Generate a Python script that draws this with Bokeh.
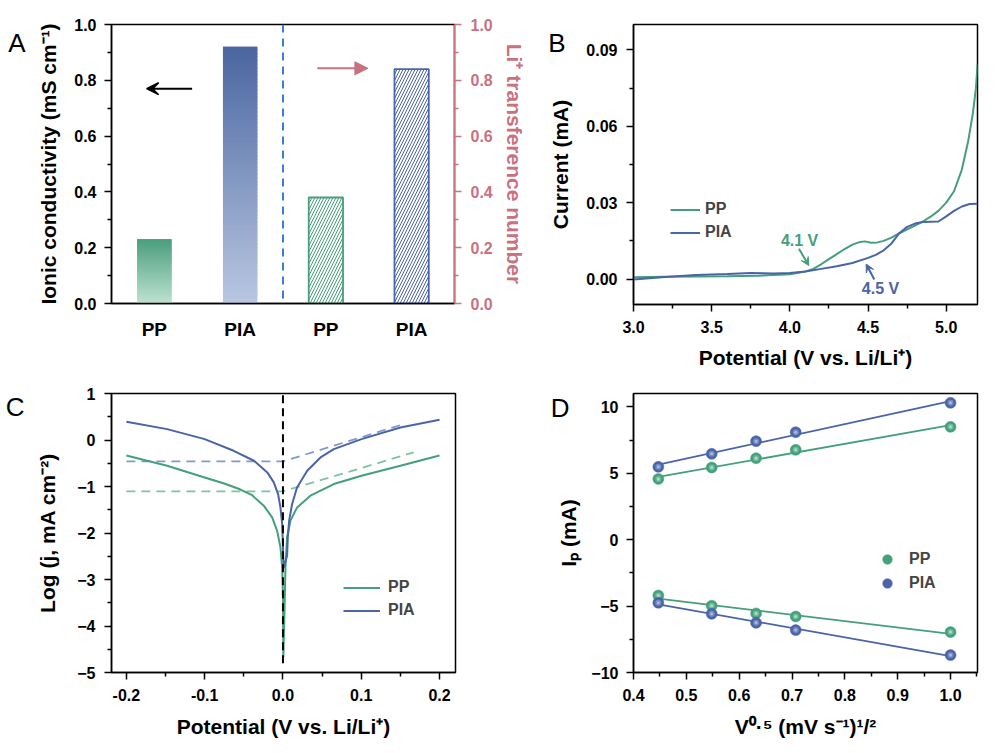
import numpy as np
from bokeh.plotting import figure
from bokeh.layouts import gridplot
from bokeh.models import (Range1d, LinearAxis, FixedTicker, Arrow, VeeHead, NormalHead,
                          Label, Span, Legend, LegendItem, NumeralTickFormatter)
from bokeh.embed import file_html
from bokeh.resources import INLINE

FONT = "Liberation Sans"
GREEN = "#44a07b"
BLUE = "#4a64a8"
PINK = "#c9717f"

# ---------------- Panel A data ----------------
a_categories = ["PP", "PIA", "PP", "PIA"]
a_conductivity = [0.23, 0.92]      # mS cm-1 (left axis): PP, PIA
a_transference = [0.38, 0.84]      # Li+ transference number (right axis): PP, PIA

# ---------------- Panel B data (LSV) ----------------
b_pot_pp = [3.0, 3.2, 3.4, 3.6, 3.8, 4.0, 4.1, 4.15, 4.2, 4.25, 4.3, 4.35, 4.4, 4.45, 4.48,
            4.52, 4.56, 4.6, 4.65, 4.7, 4.75, 4.8, 4.85, 4.9, 4.95, 5.0, 5.05, 5.1, 5.14,
            5.17, 5.19, 5.2]
b_cur_pp = [0.0007, 0.0009, 0.0010, 0.0011, 0.0013, 0.0019, 0.0030, 0.0040, 0.0058, 0.0078,
            0.0098, 0.0118, 0.0135, 0.0146, 0.0148, 0.0143, 0.0144, 0.0150, 0.0163, 0.0180,
            0.0195, 0.0210, 0.0226, 0.0245, 0.0268, 0.0300, 0.0345, 0.0430, 0.0540, 0.0650,
            0.0750, 0.0843]
b_pot_pia = [3.0, 3.2, 3.4, 3.6, 3.75, 3.9, 4.0, 4.1, 4.2, 4.3, 4.4, 4.5, 4.55, 4.6, 4.65,
             4.7, 4.75, 4.8, 4.85, 4.9, 4.95, 5.0, 5.05, 5.1, 5.15, 5.2]
b_cur_pia = [-0.0002, 0.0008, 0.0016, 0.0020, 0.0024, 0.0022, 0.0024, 0.0030, 0.0040, 0.0050,
             0.0063, 0.0083, 0.0095, 0.0113, 0.0140, 0.0180, 0.0205, 0.0218, 0.0224, 0.0225,
             0.0226, 0.0246, 0.0268, 0.0285, 0.0295, 0.0296]

# ---------------- Panel C data (Tafel) ----------------
c_pot_pp = [-0.2, -0.148, -0.1, -0.075, -0.055, -0.04, -0.0245, -0.0138, -0.0075, -0.0032,
            -0.001, 0.0, 0.0005, 0.0019, 0.0032, 0.0053, 0.0096, 0.0181, 0.0351, 0.065, 0.1003,
            0.15, 0.2]
c_log_pp = [-0.332, -0.554, -0.805, -0.935, -1.06, -1.18, -1.413, -1.664, -1.95, -2.308,
            -2.738, -3.38, -4.67, -3.74, -2.74, -2.09, -1.735, -1.449, -1.198, -0.948, -0.769,
            -0.554, -0.332]
c_pot_pia = [-0.2, -0.148, -0.1, -0.063, -0.037, -0.02, -0.0117, -0.0062, -0.0032, -0.001,
             0.0, 0.0009, 0.0053, 0.0062, 0.0079, 0.0117, 0.018, 0.031, 0.048, 0.065, 0.1003,
             0.15, 0.2]
c_log_pia = [0.391, 0.234, 0.019, -0.232, -0.446, -0.697, -0.912, -1.163, -1.449, -1.807,
             -2.308, -2.75, -2.49, -2.09, -1.735, -1.377, -1.02, -0.661, -0.375, -0.196, 0.019,
             0.27, 0.434]
c_fit_pp_x = [-0.2, 0.0, 0.167]
c_fit_pp_y = [-1.105, -1.105, -0.267]
c_fit_pia_x = [-0.2, 0.0, 0.154]
c_fit_pia_y = [-0.461, -0.461, 0.341]
c_ecorr = 0.0

# ---------------- Panel D data (Randles-Sevcik) ----------------
d_sqrt_v = [0.447, 0.548, 0.632, 0.707, 1.0]
d_pp_ox = [4.57, 5.43, 6.13, 6.76, 8.49]
d_pp_red = [-4.20, -4.97, -5.55, -5.78, -6.96]
d_pia_ox = [5.48, 6.46, 7.41, 8.09, 10.30]
d_pia_red = [-4.75, -5.58, -6.26, -6.81, -8.69]


def make_fig(fw, fh, bl, br, bt, bb, xr, yr):
    p = figure(frame_width=fw, frame_height=fh, min_border_left=bl, min_border_right=br,
               min_border_top=bt, min_border_bottom=bb, x_range=xr, y_range=yr,
               output_backend="svg", toolbar_location=None, tools="")
    p.outline_line_color = "black"
    p.outline_line_width = 1.5
    p.outline_line_alpha = 1.0
    p.grid.visible = False
    p.background_fill_color = "white"
    p.border_fill_color = "white"
    return p


def style_axis(ax, label, color="black", label_standoff=10, title_standoff=10):
    ax.axis_label = label
    ax.axis_line_width = 1.5
    ax.axis_line_color = color
    ax.major_tick_line_width = 1.5
    ax.minor_tick_line_width = 1.5
    ax.major_tick_line_color = color
    ax.minor_tick_line_color = color
    ax.major_tick_in = 0
    ax.major_tick_out = 7
    ax.minor_tick_in = 0
    ax.minor_tick_out = 4
    ax.major_label_text_font = FONT
    ax.major_label_text_font_style = "bold"
    ax.major_label_text_font_size = "16px"
    ax.major_label_text_color = color
    ax.major_label_standoff = label_standoff
    ax.axis_label_text_font = FONT
    ax.axis_label_text_font_style = "bold"
    ax.axis_label_text_font_size = "21px"
    ax.axis_label_text_color = color
    ax.axis_label_standoff = title_standoff


def panel_letter(p, letter, ypos, standoff):
    # a bare outer left axis whose single horizontal tick label is the panel letter
    la = LinearAxis(ticker=FixedTicker(ticks=[ypos], minor_ticks=[]),
                    major_label_overrides={ypos: letter})
    la.axis_line_color = None
    la.major_tick_line_color = None
    la.minor_tick_line_color = None
    la.major_tick_in = 0
    la.major_tick_out = 0
    la.minor_tick_out = 0
    la.major_label_standoff = standoff
    la.major_label_text_font = FONT
    la.major_label_text_font_size = "26px"
    la.major_label_text_font_style = "normal"
    la.major_label_text_color = "black"
    p.add_layout(la, "left")


def legend(p, items, loc, gw, gh, spacing, stand):
    lg = Legend(items=items, location=loc, orientation="vertical",
                border_line_color=None, background_fill_alpha=0,
                label_text_font=FONT, label_text_font_style="bold", label_text_font_size="16px",
                glyph_width=gw, glyph_height=gh, label_height=gh, label_standoff=stand,
                spacing=spacing, padding=0, margin=0)
    p.add_layout(lg)


def mix(c1, c2, f):
    a = np.array([int(c1[i:i + 2], 16) for i in (1, 3, 5)], float)
    b = np.array([int(c2[i:i + 2], 16) for i in (1, 3, 5)], float)
    c = a + (b - a) * f
    return "#%02x%02x%02x" % tuple(int(round(v)) for v in c)


# ================= Panel A =================
pA = make_fig(343, 279, 110, 72, 24, 75, Range1d(0, 4), Range1d(0, 1))
pA.extra_y_ranges = {"tn": Range1d(0, 1)}
xpos = [i + 0.5 for i in range(len(a_categories))]
bw = 0.4

ticks_a = [0, 0.2, 0.4, 0.6, 0.8, 1.0]
minor_a = [0.1, 0.3, 0.5, 0.7, 0.9]

# gradient bars (left axis): thin overlapping slices, light at bottom, dark at top
N = 70
grad = [("#4b9e7f", "#bde2d1"), ("#4a66a0", "#b9c7e1")]
for i, v in enumerate(a_conductivity):
    top_c, bot_c = grad[i]
    L, R, B, T, C = [], [], [], [], []
    for k in range(N):
        f = (k + 0.5) / N
        L.append(xpos[i] - bw / 2); R.append(xpos[i] + bw / 2)
        B.append(v * k / N); T.append(min(v, v * (k + 2.5) / N))
        C.append(mix(bot_c, top_c, f))
    pA.quad(left=L, right=R, bottom=B, top=T, fill_color=C, line_color=None)

# hatched bars (right axis)
hcols = [GREEN, BLUE]
for j, v in enumerate(a_transference):
    i = len(a_conductivity) + j
    pA.quad(left=[xpos[i] - bw / 2], right=[xpos[i] + bw / 2], bottom=[0], top=[v],
            y_range_name="tn", fill_color="white", line_color=hcols[j], line_width=1.8,
            hatch_pattern="/", hatch_color=hcols[j], hatch_scale=6, hatch_weight=1)

pA.add_layout(Span(location=len(a_conductivity), dimension="height", line_color="#3b7ddd",
                   line_dash="8 6", line_width=2))

ax = pA.yaxis[0]
style_axis(ax, "Ionic conductivity (mS cm⁻¹)", label_standoff=8, title_standoff=11)
ax.ticker = FixedTicker(ticks=ticks_a, minor_ticks=minor_a)
ax.formatter = NumeralTickFormatter(format="0.0")

axr = LinearAxis(y_range_name="tn")
style_axis(axr, "Li⁺ transference number", color=PINK, label_standoff=9, title_standoff=7)
axr.ticker = FixedTicker(ticks=ticks_a, minor_ticks=minor_a)
axr.formatter = NumeralTickFormatter(format="0.0")
pA.add_layout(axr, "right")

axb = pA.xaxis[0]
style_axis(axb, "")
axb.ticker = FixedTicker(ticks=xpos, minor_ticks=[])
axb.major_label_overrides = {xpos[i]: c for i, c in enumerate(a_categories)}
axb.major_tick_out = 0
axb.minor_tick_out = 0
axb.major_label_text_font_size = "19px"
axb.major_label_standoff = 15

pA.add_layout(Arrow(end=VeeHead(size=12, fill_color="black", line_color="black", line_width=1.5),
                    x_start=0.94, y_start=0.77, x_end=0.41, y_end=0.77,
                    line_color="black", line_width=2))
pA.add_layout(Arrow(end=NormalHead(size=13, fill_color=PINK, line_color=PINK),
                    x_start=2.40, y_start=0.843, x_end=2.99, y_end=0.843,
                    y_range_name="tn", line_color=PINK, line_width=2))
panel_letter(pA, "A", 0.934, 9)

# ================= Panel B =================
pB = make_fig(344, 280, 106, 20, 23, 75, Range1d(3.0, 5.2), Range1d(-0.01, 0.10))
rb1 = pB.line(b_pot_pp, b_cur_pp, line_color=GREEN, line_width=2)
rb2 = pB.line(b_pot_pia, b_cur_pia, line_color=BLUE, line_width=2)
style_axis(pB.xaxis[0], "Potential (V vs. Li/Li⁺)", label_standoff=9, title_standoff=10)
pB.xaxis[0].ticker = FixedTicker(ticks=[3.0, 3.5, 4.0, 4.5, 5.0], minor_ticks=[3.25, 3.75, 4.25, 4.75])
pB.xaxis[0].formatter = NumeralTickFormatter(format="0.0")
style_axis(pB.yaxis[0], "Current (mA)", label_standoff=9, title_standoff=11)
pB.yaxis[0].ticker = FixedTicker(ticks=[0.0, 0.03, 0.06, 0.09], minor_ticks=[0.015, 0.045, 0.075])
pB.yaxis[0].formatter = NumeralTickFormatter(format="0.00")
pB.add_layout(Arrow(end=VeeHead(size=8, fill_color=GREEN, line_color=GREEN),
                    x_start=4.058, y_start=0.0119, x_end=4.121, y_end=0.0053,
                    line_color=GREEN, line_width=2))
pB.add_layout(Arrow(end=VeeHead(size=8, fill_color=BLUE, line_color=BLUE),
                    x_start=4.54, y_start=-0.0002, x_end=4.488, y_end=0.0059,
                    line_color=BLUE, line_width=2))
pB.add_layout(Label(x=4.062, y=0.0153, text="4.1 V", text_font=FONT, text_font_style="bold",
                    text_font_size="16px", text_color=GREEN, text_align="center",
                    text_baseline="middle"))
pB.add_layout(Label(x=4.58, y=-0.0037, text="4.5 V", text_font=FONT, text_font_style="bold",
                    text_font_size="16px", text_color=BLUE, text_align="center",
                    text_baseline="middle"))
legend(pB, [LegendItem(label="PP", renderers=[rb1]), LegendItem(label="PIA", renderers=[rb2])],
       (37, 63), 30, 15, 5, 5)
panel_letter(pB, "B", 0.0929, -19)

# ================= Panel C =================
pC = make_fig(344, 279, 111, 70, 15, 73, Range1d(-0.219, 0.2204), Range1d(-5, 1))
pC.line(c_fit_pp_x, c_fit_pp_y, line_color="#7cc4a3", line_width=1.8, line_dash="9 6")
pC.line(c_fit_pia_x, c_fit_pia_y, line_color="#8399cc", line_width=1.8, line_dash="9 6")
rc1 = pC.line(c_pot_pp, c_log_pp, line_color=GREEN, line_width=2)
rc2 = pC.line(c_pot_pia, c_log_pia, line_color=BLUE, line_width=2)
pC.segment(x0=[c_ecorr], y0=[-4.8], x1=[c_ecorr], y1=[1.0], line_color="black",
           line_width=2, line_dash="8 5")
style_axis(pC.xaxis[0], "Potential (V vs. Li/Li⁺)", label_standoff=9, title_standoff=11)
pC.xaxis[0].ticker = FixedTicker(ticks=[-0.2, -0.1, 0.0, 0.1, 0.2], minor_ticks=[-0.15, -0.05, 0.05, 0.15])
pC.xaxis[0].formatter = NumeralTickFormatter(format="0.0")
style_axis(pC.yaxis[0], "Log (j, mA cm⁻²)", label_standoff=9, title_standoff=15)
pC.yaxis[0].ticker = FixedTicker(ticks=[-5, -4, -3, -2, -1, 0, 1],
                                 minor_ticks=[-4.5, -3.5, -2.5, -1.5, -0.5, 0.5])
legend(pC, [LegendItem(label="PP", renderers=[rc1]), LegendItem(label="PIA", renderers=[rc2])],
       (232, 53), 37, 15, 5, 8)
panel_letter(pC, "C", 0.70, 9)

# ================= Panel D =================
pD = make_fig(344, 279, 105, 21, 14, 74, Range1d(0.4, 1.051), Range1d(-10, 11))
xs = np.array(d_sqrt_v)
series = [(d_pp_ox, GREEN, "#a9dcc4", "PP"), (d_pp_red, GREEN, "#a9dcc4", "PP"),
          (d_pia_ox, BLUE, "#aab8dc", "PIA"), (d_pia_red, BLUE, "#aab8dc", "PIA")]
for ys, col, hi, name in series:
    k, b = np.polyfit(xs, np.array(ys), 1)
    pD.line([xs[0], xs[-1]], [k * xs[0] + b, k * xs[-1] + b], line_color=col, line_width=1.8)
leg_r = {}
for ys, col, hi, name in series:
    r1 = pD.scatter(xs, ys, size=11, fill_color=col, line_color=col, line_width=0.5)
    pD.scatter(xs, ys, size=6, fill_color=mix(col, "#ffffff", 0.25), line_color=None)
    pD.scatter(xs, ys, size=3, fill_color=hi, line_color=None)
    leg_r.setdefault(name, [r1])
style_axis(pD.xaxis[0], "V⁰·⁵ (mV s⁻¹)¹/²", label_standoff=9, title_standoff=11)
pD.xaxis[0].ticker = FixedTicker(ticks=[0.4, 0.5, 0.6, 0.7, 0.8, 0.9, 1.0],
                                 minor_ticks=[0.45, 0.55, 0.65, 0.75, 0.85, 0.95, 1.05])
pD.xaxis[0].formatter = NumeralTickFormatter(format="0.0")
style_axis(pD.yaxis[0], "Iₚ (mA)", label_standoff=8, title_standoff=8)
pD.yaxis[0].ticker = FixedTicker(ticks=[-10, -5, 0, 5, 10], minor_ticks=[-7.5, -2.5, 2.5, 7.5])
legend(pD, [LegendItem(label="PP", renderers=leg_r["PP"]),
            LegendItem(label="PIA", renderers=leg_r["PIA"])], (242, 77), 24, 24, -4, 10)
panel_letter(pD, "D", 9.9, -15)

grid = gridplot([[pA, pB], [pC, pD]], toolbar_location=None)
open("out.html", "w").write(file_html(grid, INLINE))
